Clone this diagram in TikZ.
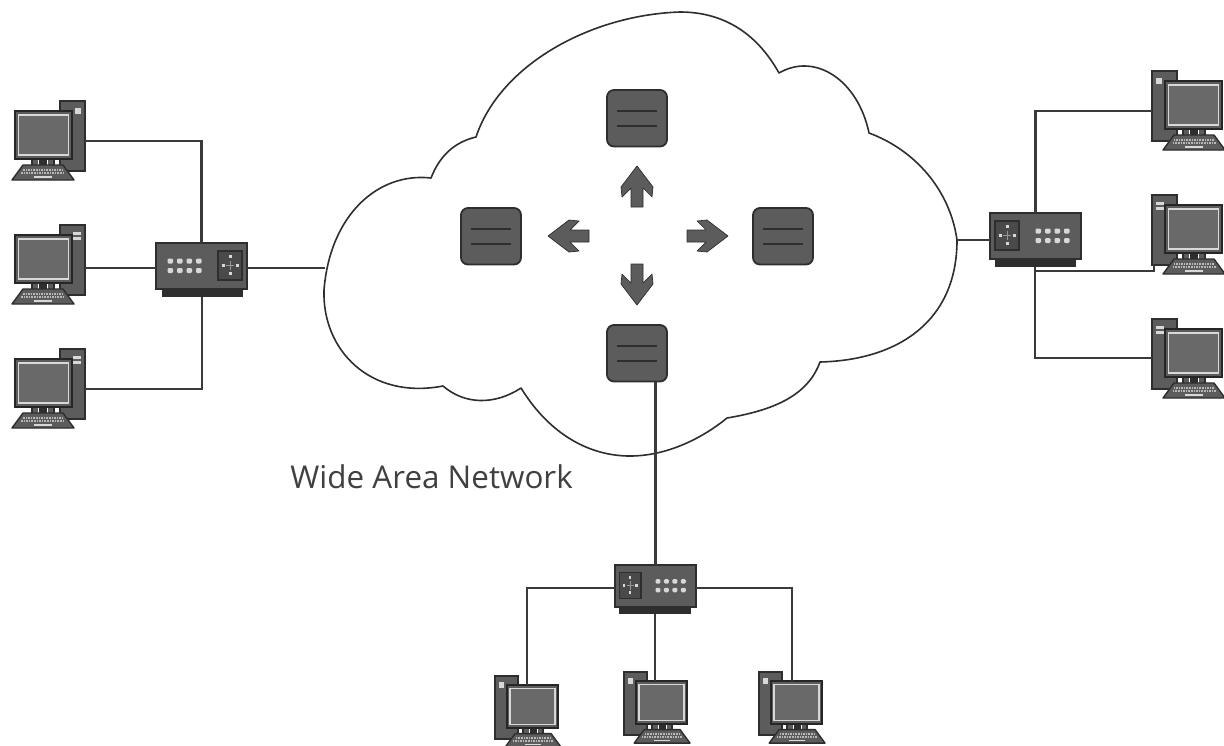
\documentclass[tikz,border=0pt]{standalone}
\usepackage{fontspec}
\setmainfont{Open Sans}
\usetikzlibrary{fit,calc}
\definecolor{devfill}{HTML}{5C5C5C}
\definecolor{devedge}{HTML}{2E2E2E}
\definecolor{wirecol}{HTML}{3A3A3A}
\definecolor{lightmark}{HTML}{D8D8D8}
\definecolor{labelcol}{HTML}{404040}
\tikzset{
  wire/.style={draw=wirecol,line width=1.05pt},
  cloudline/.style={draw=devedge,line width=.8pt,fill=white,line join=round},
  devbox/.style={draw=devedge,fill=devfill,line width=.9pt,inner sep=0pt,outer sep=0pt},
  routerbox/.style={devbox,rounded corners=3.5pt},
  panelbox/.style={draw=devedge,fill=devfill!80!black,line width=.7pt,inner sep=0pt},
  screenbox/.style={draw=lightmark,fill=devfill!92!white,line width=.7pt,inner sep=0pt},
  basebox/.style={draw=devedge,fill=devedge,line width=.5pt,inner sep=0pt},
  lightdot/.style={fill=lightmark,draw=none},
  blockarrow/.style={fill=devfill,draw=devedge,line width=.35pt,line join=round},
  keyrow/.style={draw=lightmark!85!black,line width=.8pt,dash pattern=on .8pt off .5pt},
  barline/.style={draw=devedge,line width=.8pt},
  wantext/.style={text=labelcol,font=\fontsize{15.7}{18}\selectfont,anchor=base west,inner sep=0pt}
}
% #1 name, #2 x, #3 y, #4 scale, #5 flip, #6 port x, #7 port y, #8 bay: 1 or 2
\newcommand{\pcbox}[8]{%
  \begin{scope}[shift={(#2,#3)},xscale=#4*#5,yscale=#4]
    \node[devbox,fit={(48,0)(73,70)}] (#1-t) {};
    \ifnum#8=1
      \fill[lightdot] (63,7) rectangle (69,13);
    \else
      \fill[lightdot] (61,7) rectangle (69,9.5);
      \fill[lightdot] (61,12) rectangle (69,14.5);
    \fi
    \node[draw=devedge,fill=devfill,line width=.8pt,inner sep=0pt,fit={(20,58)(42,65)}] (#1-n) {};
    \fill[white] (26,59) rectangle (36,65);
    \fill[devedge] (27,58) rectangle (35,65);
    \node[draw=black!85,fill=devfill,line width=1.1pt,inner sep=0pt,fit={(3,10)(60,58)}] (#1-m) {};
    \node[screenbox,fit={(6.5,14)(56.5,54)}] (#1-s) {};
    \filldraw[fill=devfill,draw=devedge,line width=.7pt,line join=round] (0,79) -- (11,64) -- (51,64) -- (62,79) -- cycle;
    \draw[keyrow] (11,69) -- (51,69);
    \draw[keyrow] (9,72) -- (53,72);
    \draw[lightmark,line width=.7pt] (22,76) -- (40,76);
    \coordinate (#1-p) at (#6,#7);
  \end{scope}}
% #1 name, #2 x, #3 y, #4 x scale, #5 y scale, #6 flip
\newcommand{\swbox}[6]{%
  \begin{scope}[shift={(#2,#3)},xscale=#4*#6,yscale=#5]
    \node[basebox,fit={(6,44)(86,53)}] (#1-b) {};
    \node[devbox,fit={(0,0)(91,46)}] (#1) {};
    \foreach \dotx in {11.5,21,30.5,40}
      \foreach \doty in {15.5,25}
        \fill[lightdot,rounded corners=.6pt] (\dotx,\doty) rectangle +(5.5,5);
    \node[panelbox,fit={(62,8)(86,37)}] (#1-k) {};
    \fill[lightdot] (72.5,12) rectangle +(3,3);
    \fill[lightdot] (72.5,29) rectangle +(3,3);
    \fill[lightdot] (65.5,21) rectangle +(3,3);
    \fill[lightdot] (79.5,21) rectangle +(3,3);
    \draw[lightdot,draw=lightmark!70!black,line width=.35pt] (70,22.5) -- (78,22.5) (74,18) -- (74,27);
  \end{scope}}
% #1 name, #2 x, #3 y
\newcommand{\rtbox}[3]{%
  \node[routerbox,fit={(#2,#3)($(#2,#3)+(60,56.5)$)}] (#1) {};
  \draw[barline] ($(#2,#3)+(10,21)$) -- ($(#2,#3)+(50,21)$);
  \draw[barline] ($(#2,#3)+(10,36)$) -- ($(#2,#3)+(50,36)$);}
% #1 x, #2 y, #3 rotation
\newcommand{\arrowmark}[3]{%
  \path[blockarrow,shift={(#1,#2)},rotate=#3] (0,-20) -- (16,1) -- (15,11) -- (6,2) -- (6,21) -- (-6,21) -- (-6,2) -- (-15,11) -- (-16,1) -- cycle;}
\begin{document}
\begin{tikzpicture}[x=.5pt,y=-.5pt]
\clip (0,0) rectangle (1224,745);
\fill[white] (0,0) rectangle (1224,745);
% cloud
\path[cloudline] (431,178)
  .. controls (378,172) and (330,215) .. (324,290)
  .. controls (322,350) and (370,400) .. (443,386)
  .. controls (465,405) and (495,405) .. (521,388)
  .. controls (550,435) and (590,456) .. (630,456)
  .. controls (665,456) and (700,440) .. (727,418)
  .. controls (775,410) and (808,395) .. (820,362)
  .. controls (900,360) and (957,320) .. (957,240)
  .. controls (950,190) and (915,150) .. (869,133)
  .. controls (858,80) and (815,52) .. (779,73)
  .. controls (755,30) and (720,12) .. (680,12)
  .. controls (590,15) and (500,65) .. (476,137)
  .. controls (455,142) and (440,155) .. (431,178) -- cycle;
\coordinate (cL) at (325,268);
\coordinate (cR) at (957,240);
\coordinate (jE) at (1154,271);
% routers
\rtbox{rT}{607}{90}
\rtbox{rL}{461}{208}
\rtbox{rR}{753}{208}
\rtbox{rB}{607}{325}
\arrowmark{637}{186}{0}
\arrowmark{568}{236}{90}
\arrowmark{708}{236}{-90}
\arrowmark{637}{285}{180}
% computers
\pcbox{pcA}{12}{101}{1}{1}{73}{40}{1}
\pcbox{pcB}{12}{225}{1}{1}{73}{43}{2}
\pcbox{pcC}{12}{349}{1}{1}{73}{40}{2}
\pcbox{pcD}{1225}{71}{1}{-1}{73}{40}{1}
\pcbox{pcE}{1225}{195}{1}{-1}{71}{70}{2}
\pcbox{pcF}{1225}{319}{1}{-1}{73}{39}{2}
\pcbox{pcG}{561}{676}{.9}{-1}{38}{10}{1}
\pcbox{pcH}{690}{672}{.9}{-1}{38}{10}{1}
\pcbox{pcI}{825}{672}{.9}{-1}{37}{10}{1}
% switches
\swbox{swL}{156}{243}{1}{1}{1}
\swbox{swR}{1081}{213}{1}{1}{-1}
\swbox{swB}{696}{565}{.89}{.91}{-1}
% connectors
\draw[wire] (pcA-p) -| (swL.north);
\draw[wire] (pcB-p) -- (swL.west |- pcB-p);
\draw[wire] (pcC-p) -| (swL-b.south);
\draw[wire] (swL.east |- cL) -- (cL);
\draw[wire] (pcD-p) -| (swR.north);
\draw[wire] (swR-b.south |- jE) -- (jE) -- (pcE-p);
\draw[wire] (pcF-p) -| (swR-b.south);
\draw[wire] (cR) -- (swR.west |- cR);
\draw[wire] (swB.north |- rB.south) -- (swB.north);
\draw[wire] ([yshift=-1pt]swB.west) -| (pcG-p);
\draw[wire] (swB-b.south) -- (swB-b.south |- pcH-p);
\draw[wire] ([yshift=-1pt]swB.east) -| (pcI-p);
\node[wantext] (wan) at (290,488) {Wide Area Network};
\end{tikzpicture}
\end{document}
